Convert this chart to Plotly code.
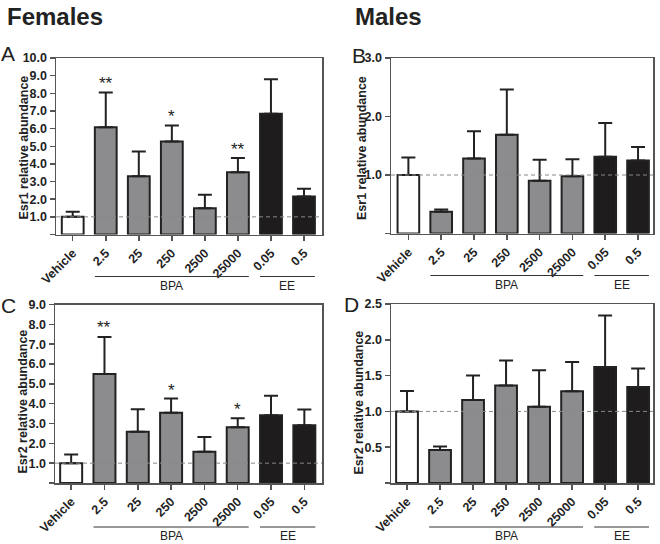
import plotly.graph_objects as go

W, H = 660, 544

categories = ["Vehicle", "2.5", "25", "250", "2500", "25000", "0.05", "0.5"]
bar_colors = ["#ffffff"] + ["#8c8c8e"] * 5 + ["#1e1c1d"] * 2

fem_esr1 = [1.0, 6.07, 3.30, 5.27, 1.49, 3.52, 6.84, 2.16]
fem_esr1_sem = [0.29, 1.98, 1.40, 0.90, 0.76, 0.81, 1.96, 0.43]
male_esr1 = [1.0, 0.37, 1.28, 1.69, 0.90, 0.98, 1.31, 1.25]
male_esr1_sem = [0.30, 0.04, 0.47, 0.77, 0.36, 0.29, 0.58, 0.23]
fem_esr2 = [1.0, 5.50, 2.59, 3.54, 1.57, 2.81, 3.42, 2.91]
fem_esr2_sem = [0.44, 1.86, 1.13, 0.72, 0.75, 0.46, 0.98, 0.80]
male_esr2 = [1.0, 0.46, 1.16, 1.36, 1.065, 1.28, 1.62, 1.34]
male_esr2_sem = [0.285, 0.05, 0.34, 0.35, 0.51, 0.41, 0.72, 0.26]

# significance stars: (category index, label, y position)
stars_A = [(1, "**", 8.77), (3, "*", 6.89), (5, "**", 5.06)]
stars_C = [(1, "**", 8.04), (3, "*", 4.86), (5, "*", 3.93)]

panels = [
    dict(v=fem_esr1, e=fem_esr1_sem, xpx=(56, 322), ypx=(58, 234.5), yr=[0, 10],
         ticks=[0, 1, 2, 3, 4, 5, 6, 7, 8, 9, 10], title="Esr1 relative abundance",
         xr=[-0.506, 7.545], stars=stars_A, letter="A", lpos=(8, 54), tpos=(23.5, 148)),
    dict(v=male_esr1, e=male_esr1_sem, xpx=(391, 653), ypx=(58, 233.5), yr=[0, 3],
         ticks=[0, 1, 2, 3], title="Esr1 relative abundance",
         xr=[-0.53, 7.456], stars=[], letter="B", lpos=(359, 56), tpos=(362, 148)),
    dict(v=fem_esr2, e=fem_esr2_sem, xpx=(55, 322), ypx=(304.5, 483), yr=[0, 9],
         ticks=[0, 1, 2, 3, 4, 5, 6, 7, 8, 9], title="Esr2 relative abundance",
         xr=[-0.485, 7.53], stars=stars_C, letter="C", lpos=(8, 305), tpos=(22.5, 402)),
    dict(v=male_esr2, e=male_esr2_sem, xpx=(391, 653), ypx=(304, 483), yr=[0, 2.5],
         ticks=[0, 0.5, 1.0, 1.5, 2.0, 2.5], title="Esr2 relative abundance",
         xr=[-0.485, 7.45], stars=[], letter="D", lpos=(351, 304), tpos=(358.5, 403)),
]

fig = go.Figure()
shapes = []
annotations = []
FONT = "Liberation Sans, Arial, sans-serif"
AX = "#555555"
TXT = "#222222"

for i, p in enumerate(panels):
    n = "" if i == 0 else str(i + 1)
    xa, ya = "x" + n, "y" + n
    fig.add_trace(go.Bar(
        x=list(range(len(categories))), y=p["v"], xaxis=xa, yaxis=ya,
        width=0.66,
        marker=dict(color=bar_colors, line=dict(color="#222222", width=2)),
        error_y=dict(type="data", symmetric=False, array=p["e"],
                     arrayminus=[0] * len(p["e"]),
                     color="#222222", thickness=2, width=7),
        showlegend=False, hoverinfo="skip",
    ))
    x0, x1 = p["xpx"]
    yt, yb = p["ypx"]
    fig.update_layout(**{
        "xaxis" + n: dict(domain=[x0 / W, x1 / W], anchor=ya, range=p["xr"],
                          tickvals=list(range(len(categories))), ticktext=categories,
                          tickangle=-45, ticks="outside", ticklen=5, tickwidth=1.5,
                          tickcolor=AX, showline=True, linecolor=AX, linewidth=1.5,
                          mirror=True, showgrid=False, zeroline=False, automargin=False,
                          fixedrange=True,
                          tickfont=dict(family=FONT, size=12.5, color=TXT, weight="bold")),
        "yaxis" + n: dict(domain=[1 - yb / H, 1 - yt / H], anchor=xa, range=p["yr"],
                          tickvals=p["ticks"],
                          ticktext=["" if t == 0 else f"{t:.1f}" for t in p["ticks"]],
                          ticks="outside", ticklen=5, tickwidth=1.5, tickcolor=AX,
                          showline=True, linecolor=AX, linewidth=1.5, mirror=True,
                          showgrid=False, zeroline=False, automargin=False,
                          fixedrange=True,
                          tickfont=dict(family=FONT, size=12.5, color=TXT, weight="bold")),
    })
    shapes.append(dict(type="line", xref=xa + " domain", yref=ya, x0=0, x1=1, y0=1, y1=1,
                       line=dict(color="#888888", width=1, dash="4px,3px")))
    for (ci, lab, yy) in p["stars"]:
        annotations.append(dict(x=ci, y=yy, xref=xa, yref=ya, text=lab, showarrow=False,
                                yshift=-4, font=dict(family=FONT, size=17, color=TXT)))
    ly = yb + 42 if i < 2 else yb + 44
    ty = yb + 51.5 if i < 2 else yb + 53
    for (a, b, lab) in [(1 - 0.33, 5 + 0.33, "BPA"), (6 - 0.33, 7 + 0.33, "EE")]:
        shapes.append(dict(type="line", xref=xa, yref="paper", x0=a, x1=b,
                           y0=1 - ly / H, y1=1 - ly / H,
                           line=dict(color="#333333", width=1.2)))
        annotations.append(dict(x=(a + b) / 2, y=1 - ty / H, xref=xa, yref="paper",
                                text=lab, showarrow=False, yanchor="middle",
                                font=dict(family=FONT, size=12, color=TXT)))
    annotations.append(dict(x=p["lpos"][0] / W, y=1 - p["lpos"][1] / H, xref="paper",
                            yref="paper", text=p["letter"], showarrow=False,
                            xanchor="center", yanchor="middle",
                            font=dict(family=FONT, size=21, color=TXT)))
    annotations.append(dict(x=p["tpos"][0] / W, y=1 - p["tpos"][1] / H, xref="paper",
                            yref="paper", text="<b>" + p["title"] + "</b>", textangle=-90,
                            showarrow=False, xanchor="center", yanchor="middle",
                            font=dict(family=FONT, size=12.5, color=TXT)))

annotations.append(dict(x=5 / W, y=1 - 16 / H, xref="paper", yref="paper",
                        text="<b>Females</b>", showarrow=False, xanchor="left",
                        yanchor="middle", font=dict(family=FONT, size=24, color=TXT)))
annotations.append(dict(x=353 / W, y=1 - 16 / H, xref="paper", yref="paper",
                        text="<b>Males</b>", showarrow=False, xanchor="left",
                        yanchor="middle", font=dict(family=FONT, size=24, color=TXT)))

fig.update_layout(width=W, height=H, margin=dict(l=0, r=0, t=0, b=0, pad=0),
                  paper_bgcolor="white", plot_bgcolor="white", hovermode=False,
                  shapes=shapes, annotations=annotations, bargap=0.3,
                  font=dict(family=FONT, color=TXT))

fig.write_html("out.html", config={"displayModeBar": False, "staticPlot": True},
               post_script="document.body.style.margin='0px';document.body.style.overflow='hidden';")
